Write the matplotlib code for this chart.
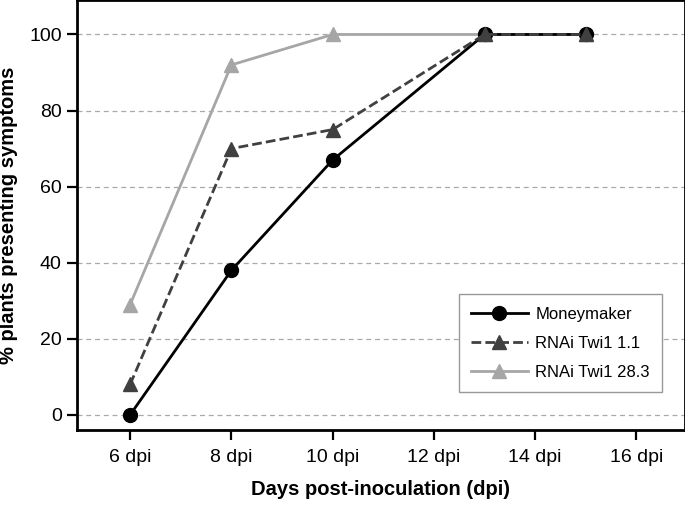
import matplotlib
matplotlib.use("Agg")
import matplotlib.pyplot as plt

plt.rcParams['font.family'] = ['Liberation Sans', 'DejaVu Sans']

# dane
days = [6, 8, 10, 13, 15]
moneymaker = [0, 38, 67, 100, 100]
rnai_11 = [8, 70, 75, 100, 100]
rnai_283 = [29, 92, 100, 100, 100]
tick_days = [6, 8, 10, 12, 14, 16]
tick_labels = [f'{d} dpi' for d in tick_days]

fig = plt.figure(figsize=(6.85, 5.08), dpi=100)
ax = fig.add_axes([0.1124, 0.1535, 0.887, 0.846])

ax.plot(days, rnai_283, color='#a6a6a6', lw=2, marker='^', ms=10,
        label='RNAi Twi1 28.3', zorder=3)
ax.plot(days, moneymaker, color='black', lw=2, marker='o', ms=10,
        label='Moneymaker', zorder=4)
ax.plot(days, rnai_11, color='#404040', lw=2, ls=(0, (3.5, 1.5)), marker='^', ms=10,
        label='RNAi Twi1 1.1', zorder=5)

ax.set_xlim(4.95, 16.95)
ax.set_ylim(-4, 109)
ax.set_xticks(tick_days)
ax.set_xticklabels(tick_labels)
ax.set_yticks([0, 20, 40, 60, 80, 100])
ax.yaxis.grid(True, ls=(0, (4, 3)), color='#aaaaaa', lw=0.9)
ax.set_axisbelow(True)

for s in ax.spines.values():
    s.set_linewidth(2)
ax.tick_params(axis='both', labelsize=14, width=1.6, length=7, direction='out')
ax.tick_params(axis='x', pad=7)
ax.tick_params(axis='y', pad=4)

ax.set_xlabel('Days post-inoculation (dpi)', fontsize=14.5, fontweight='bold', labelpad=10)
ax.set_ylabel('% plants presenting symptoms', fontsize=14.5, fontweight='bold', labelpad=8)

h, l = ax.get_legend_handles_labels()
order = [1, 2, 0]
leg = ax.legend([h[i] for i in order], [l[i] for i in order], loc='lower right',
                bbox_to_anchor=(0.977, 0.068), fontsize=12, fancybox=False,
                edgecolor='#999999', framealpha=1, handlelength=3.4,
                handletextpad=0.45, borderpad=0.75, labelspacing=0.85)
leg.get_frame().set_linewidth(1)

fig.savefig('out.png', dpi=100)
